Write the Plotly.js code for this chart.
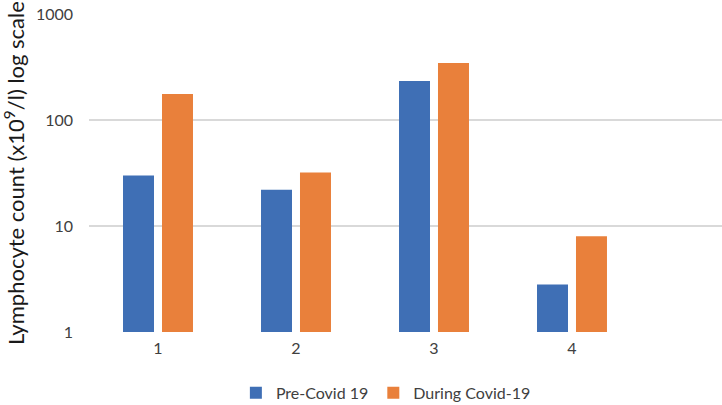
<!DOCTYPE html>
<html>
<head>
<meta charset="utf-8">
<script src="https://cdn.plot.ly/plotly-3.0.1.min.js"></script>
<style>html,body{margin:0;padding:0;background:#fff;}#chart{width:722px;height:405px;}</style>
</head>
<body>
<div id="chart"></div>
<script>
const categories = [1, 2, 3, 4];
const tickLabels = ["1", "2", "3", "4"];
const preCovid = [30, 22, 233, 2.8];
const duringCovid = [176, 32, 345, 8];
const yTickVals = [1, 10, 100, 1000];
const yTickText = ["1", "10", "100", "1000"];

const font = "Lato, 'Open Sans', sans-serif";

const traces = [
  {type: "bar", name: "Pre-Covid 19", x: categories, y: preCovid,
   marker: {color: "#3F6FB5"}},
  {type: "bar", name: "During Covid-19", x: categories, y: duringCovid,
   marker: {color: "#E9803B"}}
];

const layout = {
  width: 722, height: 405,
  margin: {l: 89, r: 0, t: 14, b: 73, autoexpand: false},
  paper_bgcolor: "#fff", plot_bgcolor: "#fff",
  barmode: "group", bargap: 0.435, bargroupgap: 0.205,
  font: {family: font, color: "#595959", size: 16},
  xaxis: {
    range: [0.5, 5.087], tickvals: categories, ticktext: tickLabels,
    showgrid: false, zeroline: false, showline: false, ticks: "",
    tickfont: {size: 16, color: "#404040"}, ticklabelstandoff: 5
  },
  yaxis: {
    type: "log", range: [0, 3], tickvals: yTickVals, ticktext: yTickText,
    showgrid: true, gridcolor: "#D9D9D9", gridwidth: 1.3, zeroline: false, showline: false, ticks: "",
    tickfont: {size: 16, color: "#404040"}, ticklabelstandoff: 15,
    title: {text: "Lymphocyte count (x10<sup>9</sup>/l) log scale", font: {size: 22, color: "#1a1a1a"}, standoff: 6}
  },
  legend: {orientation: "h", x: 0.469, xanchor: "center", yref: "container", y: 0.03, yanchor: "middle",
    font: {size: 16, color: "#404040"}, itemwidth: 30, traceorder: "normal"},
  showlegend: true
};

Plotly.newPlot("chart", traces, layout, {displayModeBar: false, staticPlot: true});
</script>
</body>
</html>
